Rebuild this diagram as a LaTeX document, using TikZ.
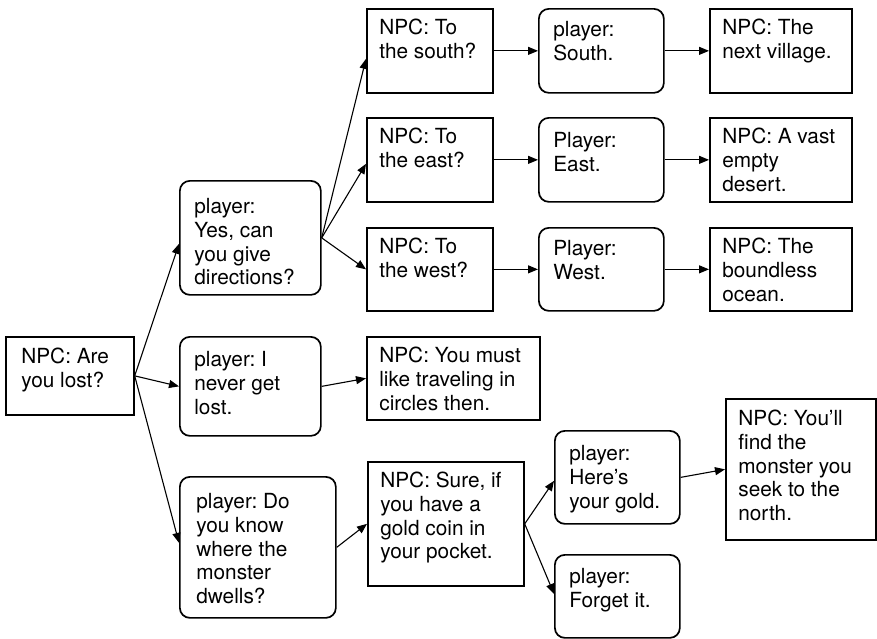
\documentclass[tikz,border=0pt]{standalone}
\usepackage{fontspec}
\setmainfont{TeX Gyre Heros}
\usetikzlibrary{arrows.meta}
\frenchspacing
\newcommand{\cellbox}[5]{\parbox[c][#2][t]{#1}{\frenchspacing\leftskip=#3\relax\rightskip=0pt plus 1fil\relax\rule{0pt}{#4}#5}}
\tikzset{
  npcbox/.style={draw=black, line width=1.7pt, inner sep=0pt, anchor=north west},
  plbox/.style={npcbox, rounded corners=10pt},
  conn/.style={draw=black, line width=1.1pt, -{Triangle[length=10pt,width=8pt]}},
  every node/.style={font=\fontsize{20.8pt}{23.7pt}\selectfont}
}
\begin{document}
\begin{tikzpicture}[x=1pt,y=-1pt]
\useasboundingbox (0,0) rectangle (877,638);
% first column
\node[npcbox] (A) at (5,336) {\cellbox{128pt}{78pt}{15.5pt}{27pt}{NPC: Are\\you lost?}};
% second column
\node[plbox] (B) at (179,180) {\cellbox{141pt}{114pt}{14.5pt}{33pt}{player:\\Yes, can\\you give\\directions?}};
\node[plbox] (C) at (179,336) {\cellbox{141pt}{99pt}{14.5pt}{30pt}{player: I\\never get\\lost.}};
\node[plbox] (D) at (179,476) {\cellbox{156pt}{141pt}{16.5pt}{32pt}{player: Do\\you know\\where the\\monster\\dwells?}};
% direction rows
\node[npcbox] (S1) at (366,8) {\cellbox{126pt}{84pt}{12.5pt}{26pt}{NPC: To\\the south?}};
\node[npcbox] (S2) at (366,117) {\cellbox{126pt}{84pt}{12.5pt}{26pt}{NPC: To\\the east?}};
\node[npcbox] (S3) at (366,227) {\cellbox{126pt}{83pt}{12.5pt}{26pt}{NPC: To\\the west?}};
\node[plbox] (P1) at (538,8) {\cellbox{125pt}{84pt}{14.5pt}{28pt}{player:\\South.}};
\node[plbox] (P2) at (538,117) {\cellbox{125pt}{84pt}{14.5pt}{30pt}{Player:\\East.}};
\node[plbox] (P3) at (538,227) {\cellbox{125pt}{83pt}{14.5pt}{28pt}{Player:\\West.}};
\node[npcbox] (N1) at (709,8) {\cellbox{142pt}{84pt}{12.5pt}{26pt}{NPC: The\\next village.}};
\node[npcbox] (N2) at (709,117) {\cellbox{142pt}{84pt}{12.5pt}{26pt}{NPC: A vast\\empty\\desert.}};
\node[npcbox] (N3) at (709,227) {\cellbox{142pt}{83pt}{12.5pt}{26pt}{NPC: The\\boundless\\ocean.}};
% never get lost
\node[npcbox] (M) at (366,336) {\cellbox{173pt}{83pt}{12.5pt}{26pt}{NPC: You must\\like traveling in\\circles then.}};
% monster branch
\node[npcbox] (G) at (367,461) {\cellbox{156pt}{124pt}{12.5pt}{26pt}{NPC: Sure, if\\you have a\\gold coin in\\your pocket.}};
\node[plbox] (H) at (554,430) {\cellbox{125pt}{93pt}{14.5pt}{30pt}{player:\\Here’s\\your gold.}};
\node[plbox] (F) at (554,554) {\cellbox{125pt}{83pt}{14.5pt}{29pt}{player:\\Forget it.}};
\node[npcbox] (Y) at (725,398) {\cellbox{150pt}{141pt}{12.5pt}{27pt}{NPC: You’ll\\find the\\monster you\\seek to the\\north.}};
% connectors
\draw[conn] (A.east) -- ([yshift=-6pt]B.west);
\draw[conn] (A.east) -- (C.west);
\draw[conn] (A.east) -- ([yshift=4.5pt]D.west);
\draw[conn] (B.east) -- ([yshift=-8pt]S1.west);
\draw[conn] (B.east) -- ([yshift=-4pt]S2.west);
\draw[conn] (B.east) -- (S3.west);
\draw[conn] (S1.east) -- (P1.west);
\draw[conn] (S2.east) -- (P2.west);
\draw[conn] (S3.east) -- (P3.west);
\draw[conn] (P1.east) -- (N1.west);
\draw[conn] (P2.east) -- (N2.west);
\draw[conn] (P3.east) -- (N3.west);
\draw[conn] (C.east) -- (M.west);
\draw[conn] (D.east) -- (G.west);
\draw[conn] (G.east) -- ([yshift=-3.5pt]H.west);
\draw[conn] (G.east) -- ([yshift=2.5pt]F.west);
\draw[conn] (H.east) -- (Y.west);
\end{tikzpicture}
\end{document}
